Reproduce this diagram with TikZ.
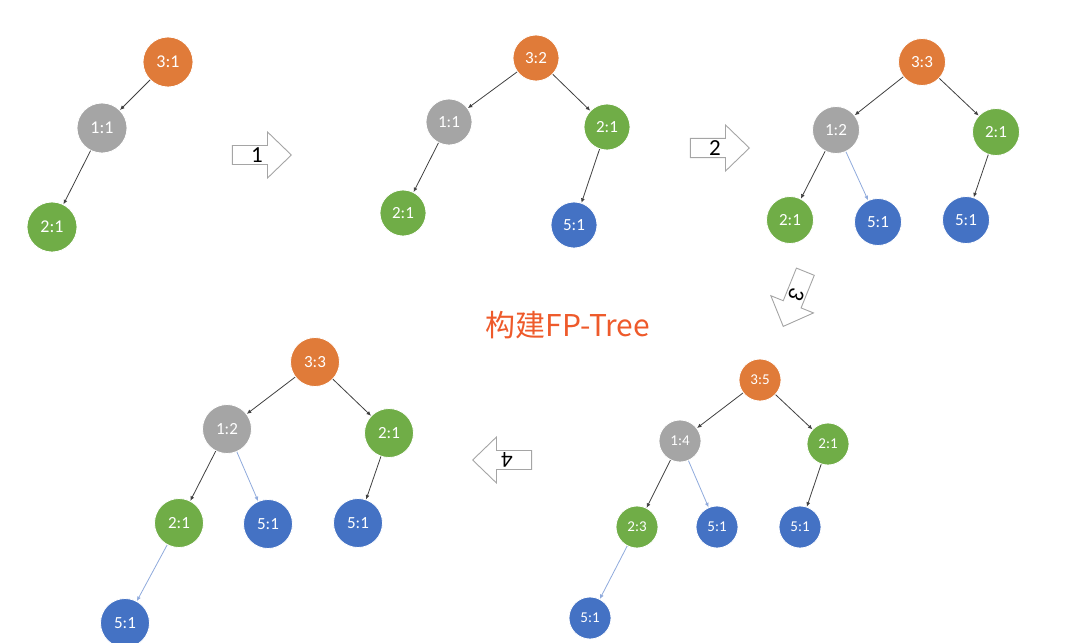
\documentclass[tikz,border=0pt]{standalone}
\usepackage{fontspec}
\setmainfont{Carlito}
\newfontfamily\cjkfont{Noto Sans CJK SC}
\usetikzlibrary{arrows.meta, shapes.arrows}

\definecolor{orng}{HTML}{E07B39}
\definecolor{gry}{HTML}{A5A5A5}
\definecolor{grn}{HTML}{70AD47}
\definecolor{blu}{HTML}{4472C4}
\definecolor{lnk}{HTML}{8FAADC}
\definecolor{ttl}{HTML}{EE5A2B}

\begin{document}
\begin{tikzpicture}[
    x=1pt, y=-1pt,
    cnode/.style={circle, draw=white, line width=0.8pt, text=white, inner sep=0pt, minimum size=48pt, font=\fontsize{17}{17}\selectfont},
    root/.style={cnode, fill=orng},
    one/.style={cnode, fill=gry},
    two/.style={cnode, fill=grn},
    five/.style={cnode, fill=blu},
    link/.style={-{Latex[length=4.5pt,width=4pt]}, line width=0.8pt, black!75},
    newlink/.style={link, lnk},
    stepbox/.style={single arrow, draw=gry, line width=0.9pt, fill=white, minimum height=59pt, minimum width=46pt, single arrow head extend=12.5pt, single arrow tip angle=88, inner sep=1pt, font=\fontsize{23}{23}\selectfont, anchor=tip}
]
    \useasboundingbox (0,0) rectangle (1080,643);

    % Tree 1
    \begin{scope}[cnode/.append style={minimum size=50pt, font=\fontsize{18}{18}\selectfont}]
        \node[root] (a1) at (168,62) {3:1};
        \node[one] (a2) at (102,128) {1:1};
        \node[two] (a3) at (52,227) {2:1};
    \end{scope}
    \draw[link] (a1) -- (a2);
    \draw[link] (a2) -- (a3);

    % Tree 2
    \begin{scope}[cnode/.append style={minimum size=46pt}]
        \node[root] (b1) at (536,58) {3:2};
        \node[one] (b2) at (449,122) {1:1};
        \node[two] (b3) at (607,127) {2:1};
        \node[two] (b4) at (403,213) {2:1};
        \node[five] (b5) at (574,225) {5:1};
    \end{scope}
    \draw[link] (b1) -- (b2);
    \draw[link] (b1) -- (b3);
    \draw[link] (b2) -- (b4);
    \draw[link] (b3) -- (b5);

    % Tree 3
    \begin{scope}[cnode/.append style={minimum size=47pt}]
        \node[root] (c1) at (922,62) {3:3};
        \node[one] (c2) at (836,130) {1:2};
        \node[two] (c3) at (996,132) {2:1};
        \node[two] (c4) at (790,220) {2:1};
        \node[five] (c5) at (878,222) {5:1};
        \node[five] (c6) at (966,220) {5:1};
    \end{scope}
    \draw[link] (c1) -- (c2);
    \draw[link] (c1) -- (c3);
    \draw[link] (c2) -- (c4);
    \draw[newlink] (c2) -- (c5);
    \draw[link] (c3) -- (c6);

    % Tree 4
    \begin{scope}[cnode/.append style={minimum size=49pt}]
        \node[root] (d1) at (315,362) {3:3};
        \node[one] (d2) at (227,429) {1:2};
        \node[two] (d3) at (389,433) {2:1};
        \node[two] (d4) at (179,523) {2:1};
        \node[five] (d5) at (268,524) {5:1};
        \node[five] (d6) at (358,523) {5:1};
        \node[five] (d7) at (125,623) {5:1};
    \end{scope}
    \draw[link] (d1) -- (d2);
    \draw[link] (d1) -- (d3);
    \draw[link] (d2) -- (d4);
    \draw[newlink] (d2) -- (d5);
    \draw[link] (d3) -- (d6);
    \draw[newlink] (d4) -- (d7);

    % Tree 5
    \begin{scope}[cnode/.append style={minimum size=42pt, font=\fontsize{15}{15}\selectfont}]
        \node[root] (e1) at (760,380) {3:5};
        \node[one] (e2) at (680,441) {1:4};
        \node[two] (e3) at (828,444) {2:1};
        \node[two] (e4) at (637,527) {2:3};
        \node[five] (e5) at (717,527) {5:1};
        \node[five] (e6) at (800,527) {5:1};
        \node[five] (e7) at (590,618) {5:1};
    \end{scope}
    \draw[link] (e1) -- (e2);
    \draw[link] (e1) -- (e3);
    \draw[link] (e2) -- (e4);
    \draw[newlink] (e2) -- (e5);
    \draw[link] (e3) -- (e6);
    \draw[newlink] (e4) -- (e7);

    % Steps
    \node[stepbox] (s1) at (292,155) {1};
    \node[stepbox] (s2) at (750,148) {2};
    \node[stepbox, rotate=-112] (s3) at (783,327) {3};
    \node[stepbox, rotate=180] (s4) at (472,460) {4};

    % Title
    \node[text=ttl, font=\cjkfont\fontsize{30}{30}\selectfont] (title) at (568,325) {构建FP-Tree};
\end{tikzpicture}
\end{document}
